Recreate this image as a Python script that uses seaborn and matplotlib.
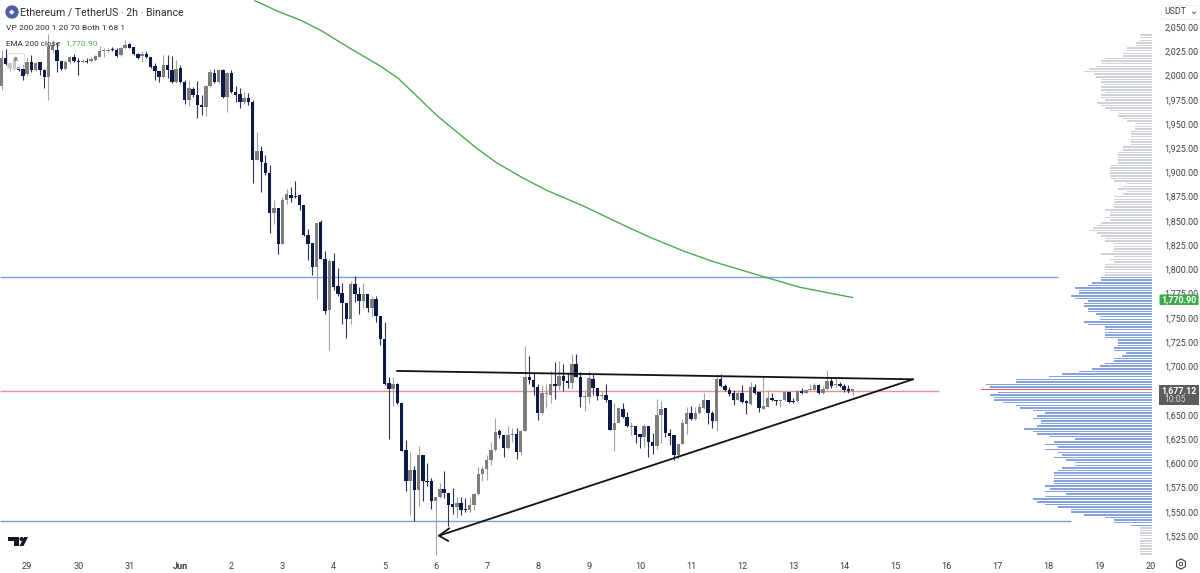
import numpy as np
import pandas as pd
import matplotlib
matplotlib.use("Agg")
import matplotlib.pyplot as plt
from matplotlib.patches import FancyBboxPatch, Rectangle, Circle, Polygon
import seaborn as sns

sns.set_theme(style="white")
plt.rcParams['font.family'] = ['Roboto', 'DejaVu Sans']

highs = [2026,2027,2014,2021,2010,2012,2019,2021,2014,2014,
 2007,2043,2037,2033,2015,2016,2020,2022,2018,2017,
 2018,2019,2021,2030,2028,2028,2029,2028,2029,2037,
 2034,2029,2023,2025,2025,2019,2013,2005,2021,2021,
 2020,2016,2011,1995,1994,1988,1994,1980,1990,2007,
 2007,2007,2007,2004,2006,1989,1987,1983,1982,1975,
 1942,1927,1918,1908,1872,1863,1875,1883,1885,1891,
 1878,1866,1842,1827,1848,1851,1819,1811,1817,1801,
 1786,1765,1788,1793,1782,1786,1775,1773,1773,1752,
 1746,1689,1689,1683,1662,1624,1612,1597,1618,1608,
 1600,1585,1565,1580,1592,1569,1574,1565,1565,1564,
 1565,1569,1596,1597,1608,1622,1647,1635,1629,1638,
 1636,1636,1634,1721,1711,1693,1682,1681,1682,1695,
 1704,1705,1702,1693,1713,1713,1694,1676,1695,1693,
 1678,1674,1682,1665,1662,1657,1662,1653,1643,1638,
 1630,1640,1638,1631,1666,1664,1657,1635,1629,1620,
 1646,1658,1659,1658,1662,1672,1665,1654,1692,1692,
 1682,1679,1676,1676,1681,1665,1684,1682,1673,1689,
 1676,1672,1665,1666,1674,1673,1667,1676,1678,1676,
 1682,1683,1682,1680,1696,1688,1689,1684,1682,1681,1677]
body_tops = [2018,2018,2013,2018,2009,2007,2014,2014,2013,2014,
 2006,2030,2031,2026,2015,2014,2019,2019,2015,2015,
 2015,2017,2020,2025,2026,2026,2027,2026,2028,2031,
 2032,2029,2022,2022,2022,2019,2010,2005,2011,2011,
 2006,2007,2008,1993,1987,1986,1980,1970,1989,2004,
 2003,2006,2006,2003,2003,1983,1981,1977,1977,1973,
 1922,1922,1910,1899,1863,1863,1872,1878,1877,1876,
 1877,1866,1835,1827,1848,1849,1811,1809,1809,1783,
 1776,1765,1785,1785,1775,1775,1775,1769,1769,1752,
 1728,1683,1682,1682,1662,1614,1593,1593,1608,1608,
 1582,1582,1565,1573,1573,1569,1558,1559,1559,1553,
 1557,1568,1589,1594,1603,1614,1632,1633,1629,1629,
 1630,1630,1633,1689,1689,1686,1679,1672,1672,1682,
 1682,1690,1690,1685,1702,1702,1689,1669,1688,1687,
 1678,1670,1670,1665,1642,1657,1656,1648,1638,1638,
 1630,1638,1638,1622,1650,1656,1657,1631,1629,1620,
 1641,1652,1652,1652,1658,1665,1665,1652,1687,1687,
 1680,1676,1672,1672,1672,1664,1679,1679,1673,1659,
 1667,1667,1665,1665,1673,1673,1664,1675,1675,1676,
 1677,1681,1681,1677,1685,1685,1682,1682,1680,1677,1677]
body_bottoms = [1989,2012,2007,2007,2006,1999,2002,2006,2006,2006,
 1998,1998,2026,2015,2007,2007,2014,2015,2014,2014,
 2014,2015,2016,2019,2025,2025,2026,2020,2021,2028,
 2028,2022,2018,2020,2019,2009,2005,1998,1998,2006,
 1993,1993,1993,1975,1975,1980,1970,1967,1967,1989,
 1993,1993,1978,1978,1983,1980,1973,1973,1973,1913,
 1913,1911,1899,1858,1858,1826,1826,1872,1874,1875,
 1866,1835,1826,1802,1802,1811,1757,1758,1782,1775,
 1765,1749,1749,1775,1767,1767,1760,1760,1752,1728,
 1682,1677,1677,1662,1613,1582,1582,1572,1572,1582,
 1581,1561,1561,1565,1569,1557,1555,1555,1552,1552,
 1552,1557,1568,1589,1594,1603,1614,1629,1616,1616,
 1629,1612,1612,1633,1686,1679,1652,1652,1671,1670,
 1680,1680,1685,1683,1683,1689,1668,1668,1668,1678,
 1669,1669,1665,1634,1634,1642,1648,1638,1637,1629,
 1627,1627,1622,1618,1618,1650,1631,1628,1608,1609,
 1620,1640,1646,1646,1652,1657,1652,1644,1644,1680,
 1676,1671,1665,1665,1663,1662,1661,1672,1657,1656,
 1658,1665,1664,1664,1665,1663,1663,1664,1672,1672,
 1676,1676,1672,1672,1677,1680,1681,1680,1676,1675,1675]
lows = [1985,2011,2005,2006,2005,1995,1999,2004,2005,2000,
 1987,1975,2023,2004,2006,2006,2012,2014,2000,2013,
 2013,2014,2015,2019,2019,2024,2025,2019,2020,2027,
 2028,2021,2017,2014,2018,2008,1995,1993,1997,1997,
 1992,1992,1992,1971,1968,1978,1956,1959,1958,1988,
 1992,1991,1977,1962,1982,1973,1966,1971,1970,1889,
 1913,1880,1897,1838,1847,1816,1826,1867,1869,1874,
 1861,1834,1810,1794,1769,1811,1754,1717,1779,1772,
 1744,1729,1744,1766,1754,1760,1756,1752,1746,1722,
 1681,1625,1659,1661,1613,1571,1547,1540,1556,1561,
 1577,1553,1505,1564,1564,1535,1548,1544,1547,1550,
 1550,1552,1567,1582,1583,1598,1613,1626,1606,1615,
 1622,1604,1608,1633,1682,1670,1645,1651,1657,1662,
 1666,1676,1675,1678,1677,1689,1658,1654,1662,1670,
 1665,1666,1663,1634,1613,1641,1647,1637,1629,1621,
 1616,1617,1606,1610,1615,1621,1627,1619,1603,1604,
 1620,1630,1645,1645,1651,1656,1640,1636,1633,1679,
 1674,1669,1660,1665,1662,1651,1660,1671,1653,1656,
 1658,1664,1660,1658,1664,1662,1662,1663,1671,1671,
 1676,1676,1671,1671,1676,1678,1679,1679,1673,1672,1669]
direction_rows = [
 "u d u u d d u d u d",
 "d u u d d u u d d u",
 "d u u u u u d d u u",
 "d d d u d d d d u d",
 "d u d d u d d d u u",
 "d u d u d d d u d d",
 "u d d d u d u u d d",
 "d d d d u d d u d d",
 "d d u d d u d u d d",
 "d d u d d d u d u d",
 "d d u u d d d u d d",
 "u u u u u u u d d u",
 "u d u u d d d u u u",
 "d u d d u d d u u d",
 "d u d d u u d d u d",
 "d u d d u u d d d u",
 "u u d u u u d d u d",
 "d d d u d d u d d u",
 "u d d u u d d u d u",
 "u u d u u d u d d d u",
]
directions = " ".join(direction_rows).split()

ema_index = [59.5, 65.0, 70.5, 75.2, 81.1, 88.9, 93.2, 97.5, 102.2, 106.9, 111.6, 116.3, 122.6, 128.1,
             136.7, 144.5, 152.4, 160.2, 167.2, 179.0, 187.6, 200.0]
ema_price = [2077.2, 2066, 2056.5, 2046, 2030, 2010, 1997, 1979, 1959, 1942, 1925, 1910, 1894, 1881.5,
             1865.4, 1849, 1833, 1819, 1808, 1792.5, 1781.5, 1770.9]

blue_levels = [1792.6, 1540.4]
blue_level_ends = [248.2, 251.3]
red_level = 1675.0
red_level_end = 220.3

upper_trend_index = [92.9, 214.2]
upper_trend_price = [1695.2, 1686.6]
lower_trend_index = [102.8, 214.2]
lower_trend_price = [1525.3, 1686.6]

profile_top_price = 2041.7
profile_step = 2.69
profile_volume = [11.7,11.7,11.7,16.3,16.3,25,25.7,29.3,29.3,46.7,51,51,55.7,63,67.7,58.3,55.7,51,51,48.3,
 51,51,46.7,51,51,46.7,55,51,46.7,42.3,34.3,34.3,29.3,25,16.7,16.7,16.7,20.7,20.7,20.7,
 20.7,20.7,20.7,29.3,29.3,34.3,34.3,34.3,34.3,34.3,42.3,42.3,42.3,42.3,42.3,42.3,38.3,25,29.3,34.3,
 25,29.3,37.7,37.7,37.7,37.7,37.7,46.7,42.3,42.3,46.7,42.3,51,55,59,63,55,51,46.7,46.7,
 37.7,37.7,37.7,37.7,51,38,42,37.7,46.7,46.7,46.7,46.7,46.7,51,51,59.7,64,76.7,73,73,
 80.7,76.7,64,68.3,68.3,64,64,55.7,51.7,51.7,68.3,64,47,47,47,47,47,34.3,34.3,34.3,
 38.3,38.3,25.7,30,38.3,38.3,47,51.7,59.7,73,89.7,103,136.3,136.3,166.3,162.3,170.7,154,162.3,158,
 158,149,136.3,132.3,119,106.7,115,119,110.7,110.7,115,128,119,115,102.3,76.7,98,106.7,94,106.7,
 94,89.7,98,85.7,76.7,76.7,89.7,94,98,98,98,98,98,106.7,102.3,106.7,85.7,106.7,119,115,
 106.7,94,80.7,80.7,68.3,47,38.3,38.3,20.7,12.3,12.3,12.3,12.3,12.3,12.3,12.3,12.3,12.3,12.3,12.3]
value_area_first = 93
value_area_last = 188
point_of_control = 136

day_labels = ["29","30","31","Jun","2","3","4","5","6","7","8","9","10","11","12","13","14","15","16","17","18","19","20"]
price_ticks = [1525,1550,1575,1600,1625,1650,1675,1700,1725,1750,1775,1800,1825,1850,1875,1900,1925,1950,1975,2000,2025,2050]
price_tick_skip = [1675]

W, H = 1200, 573
DARK = "#0b1a45"
GRAY = "#7d7d7d"
DARK_WICK = "#2a3558"
GRAY_WICK = "#a3a3a3"
TEXT = "#3c3f46"

fig = plt.figure(figsize=(W/100, H/100), dpi=100, facecolor="white")
AX_RIGHT, AX_BOTTOM = 1158, 556
ax = fig.add_axes([0, 1-AX_BOTTOM/H, AX_RIGHT/W, AX_BOTTOM/H])
ax.set_xlim(-0.39, 271.76)
ax.set_ylim(1504.3, 2077.85)

idx = np.arange(len(highs))
hi, lo = np.array(highs, float), np.array(lows, float)
top, bot = np.array(body_tops, float), np.array(body_bottoms, float)
is_up = np.array(directions) == "u"

ax.hlines(blue_levels, -0.39, blue_level_ends, color="#7ea0e4", lw=1.0, zorder=1)
ax.hlines(red_level, -0.39, red_level_end, color="#e88f98", lw=1.0, zorder=1)

ax.vlines(idx[is_up], lo[is_up], hi[is_up], color=GRAY_WICK, lw=0.8, zorder=2)
ax.vlines(idx[~is_up], lo[~is_up], hi[~is_up], color=DARK_WICK, lw=0.8, zorder=2)
ax.bar(idx[is_up], (top-bot)[is_up], bottom=bot[is_up], width=0.8, color=GRAY, lw=0, zorder=3)
ax.bar(idx[~is_up], (top-bot)[~is_up], bottom=bot[~is_up], width=0.8, color=DARK, lw=0, zorder=3)

ema = pd.DataFrame({"i": ema_index, "p": ema_price})
sns.lineplot(data=ema, x="i", y="p", ax=ax, color="#4caa50", lw=1.0, zorder=4)

ax.plot(upper_trend_index, upper_trend_price, color="#111111", lw=1.3, zorder=5)
ax.plot(lower_trend_index, lower_trend_price, color="#111111", lw=1.3, zorder=5)

ax.yaxis.tick_right()
ax.set_yticks(price_ticks)
ax.set_yticklabels([("" if p in price_tick_skip else f"{p:,.2f}") for p in price_ticks], fontsize=6.4, color=TEXT)
ax.set_xticks([6 + 12*n for n in range(len(day_labels))])
ax.set_xticklabels(day_labels, fontsize=6.6, color=TEXT)
ax.get_xticklabels()[3].set_fontweight("bold")
ax.tick_params(axis="x", length=0, pad=4)
ax.tick_params(axis="y", length=0, pad=4.5)
ax.set_xlabel(""); ax.set_ylabel("")
for s in ax.spines.values():
    s.set_visible(False)

vp = fig.add_axes([0, 1-AX_BOTTOM/H, 1152/W, AX_BOTTOM/H])
vp.set_xlim(1152, 0)
vp.set_ylim(1504.3, 2077.85)
vp.patch.set_alpha(0)
vp.axis("off")
vols = np.array(profile_volume)
rows = np.arange(len(vols))
prices = profile_top_price - profile_step*rows
cols = np.where((rows >= value_area_first) & (rows <= value_area_last), "#86a2e0", "#cfd2d8")
cols[point_of_control] = "#e0606a"
vp.barh(prices, vols, height=profile_step*0.58, color=list(cols), lw=0, zorder=2)

def px(x, y):
    return x/W, 1-y/H

fig.text(*px(20.5, 12), "Ethereum / TetherUS · 2h · Binance", fontsize=7.6, color="#2a2e39", va="center", ha="left")
fig.text(*px(6, 27.5), "VP 200 200 1 20 70 Both 1 68 1", fontsize=6.1, color="#2a2e39", va="center")
fig.text(*px(6, 43.5), "EMA 200 close", fontsize=5.9, color="#2a2e39", va="center")
fig.text(*px(65, 43.5), "1,770.90", fontsize=6.1, color="#4caf50", va="center")

overlay = fig.add_axes([0, 0, 1, 1], facecolor="none")
overlay.set_xlim(0, W); overlay.set_ylim(H, 0); overlay.axis("off")
overlay.plot([449.3, 439, 448.3], [528.3, 535.7, 541], color="#111111", lw=1.3, zorder=6)
overlay.add_patch(Circle((12, 12), 6, color="#4b5fa8", zorder=5))
overlay.text(12, 12, "◆", color="white", fontsize=5, ha="center", va="center", family="DejaVu Sans", zorder=6)
overlay.add_patch(FancyBboxPatch((8, 54), 16, 14, boxstyle="round,pad=0.5,rounding_size=2", fc=(1,1,1,0.55), ec="#dcdcdc", lw=0.7, zorder=6))
overlay.text(16, 62, "^", fontsize=7, color="#444444", ha="center", va="center", zorder=7)
overlay.add_patch(Rectangle((1161, 5), 39, 14, fc="white", ec="#f0f0f0", lw=0.6))
overlay.text(1164, 11.5, "USDT", fontsize=6.3, color=TEXT, va="center")
overlay.text(1194, 11.5, "⌄", fontsize=7, color=TEXT, va="center", ha="center", family="DejaVu Sans")
overlay.add_patch(FancyBboxPatch((1160, 295), 38, 9.5, boxstyle="round,pad=0.5,rounding_size=1", fc="#3fa94d", ec="none", zorder=5))
overlay.text(1179, 299.7, "1,770.90", fontsize=6.4, color="white", ha="center", va="center", fontweight="bold", zorder=6)
overlay.add_patch(Rectangle((1159, 385), 40, 20, fc="#5d5d5d", ec="none", zorder=5))
overlay.text(1179, 390.5, "1,677.12", fontsize=6.4, color="white", ha="center", va="center", fontweight="bold", zorder=6)
overlay.text(1175, 399.5, "10:05", fontsize=6.2, color="#d5d5d5", ha="center", va="center", zorder=6)
overlay.add_patch(Polygon([(8, 537), (19, 537), (19, 546), (14, 546), (14, 541), (8, 541)], fc="#131722", ec="none", zorder=6))
overlay.add_patch(Circle((21.5, 539), 2, fc="#131722", ec="none", zorder=6))
overlay.add_patch(Polygon([(28, 537), (23.5, 546), (19.5, 546), (24, 537)], fc="#131722", ec="none", zorder=6))
overlay.scatter([1181], [564], marker="h", s=55, facecolors="none", edgecolors="#3c3f46", lw=0.8)
overlay.scatter([1181], [564], marker="o", s=6, facecolors="none", edgecolors="#3c3f46", lw=0.7)

fig.savefig("out.png", dpi=100, facecolor="white")
